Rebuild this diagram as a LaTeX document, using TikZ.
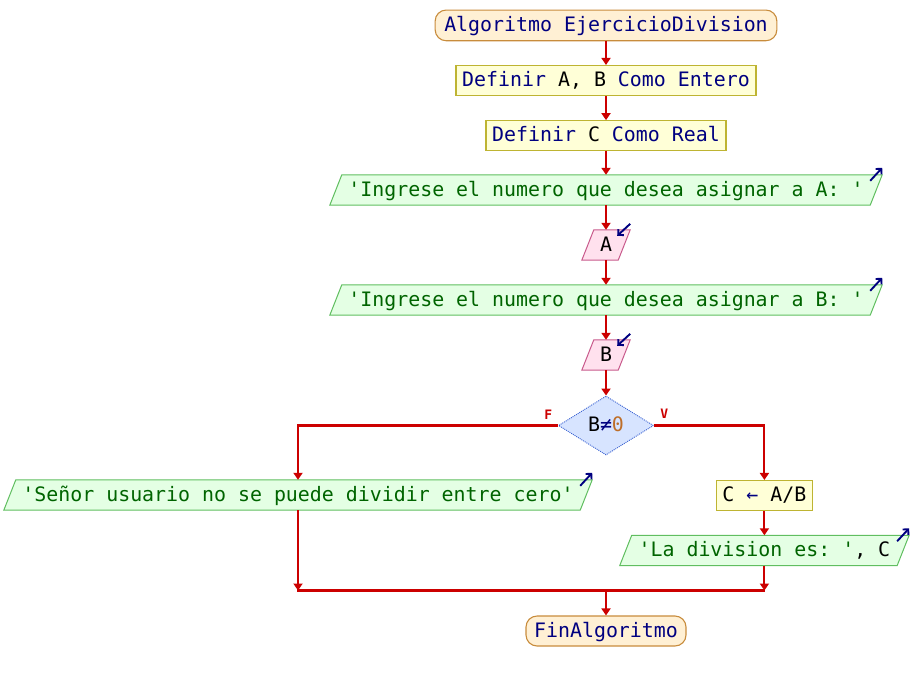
\documentclass[tikz,border=0pt]{standalone}
\usepackage{fontspec}
\setmonofont{DejaVu Sans Mono}
\usetikzlibrary{shapes.geometric,arrows.meta,backgrounds,calc}
\definecolor{flowred}{RGB}{204,0,0}
\definecolor{navy}{RGB}{0,0,128}
\definecolor{termfill}{RGB}{255,240,212}
\definecolor{termdraw}{RGB}{200,140,60}
\definecolor{procfill}{RGB}{255,255,215}
\definecolor{procdraw}{RGB}{190,180,50}
\definecolor{outfill}{RGB}{228,255,228}
\definecolor{outdraw}{RGB}{96,190,96}
\definecolor{outtext}{RGB}{0,100,0}
\definecolor{infill}{RGB}{255,225,238}
\definecolor{indraw}{RGB}{200,90,140}
\definecolor{decfill}{RGB}{215,228,255}
\definecolor{decdraw}{RGB}{60,100,210}
\definecolor{zerocol}{RGB}{190,110,40}
\newcommand{\parabg}[3]{%
  \begin{scope}[on background layer]
    \path[fill=#2, draw=#3, line width=1pt]
      ([xshift=-6pt]#1.south west) -- ([xshift=6pt]#1.north west) --
      ([xshift=6pt]#1.north east) -- ([xshift=-6pt]#1.south east) -- cycle;
  \end{scope}}
\tikzset{
  base/.style={font=\ttfamily\fontsize{19.9}{24}\selectfont, text height=15.5pt, text depth=3pt, inner sep=0pt, minimum height=30pt},
  term/.style={base, draw=termdraw, fill=termfill, rounded corners=11pt, line width=1.1pt, text=navy},
  proc/.style={base, draw=procdraw, fill=procfill, line width=1.1pt, text=navy},
  outp/.style={base, text=outtext},
  inp/.style={base, text=black},
  dec/.style={base, diamond, draw=decdraw, fill=decfill, dash pattern=on 1pt off 1pt, line width=0.9pt, minimum width=95pt, minimum height=59pt, aspect=1.6, text=black},
  flow/.style={draw=flowred, line width=2.1pt, -{Triangle[width=9pt,length=7pt]}},
  wire/.style={draw=flowred, line width=2.1pt},
  icon/.style={draw=navy, line width=1.9pt, -{Straight Barb[length=4pt,width=8pt]}},
  branch/.style={text=flowred, font=\ttfamily\bfseries\fontsize{13}{15}\selectfont, inner sep=0pt}
}
\begin{document}
\begin{tikzpicture}[x=1pt,y=-1pt]
\useasboundingbox (0,0) rectangle (912,680);
% nodes
\node[term, minimum width=341.7pt, minimum height=30.7pt] (start) at (606,25.4) {Algoritmo EjercicioDivision};
\node[proc, minimum width=300pt] (def1) at (606,80.5) {Definir \textcolor{black}{A, B} Como Entero};
\node[proc, minimum width=240pt] (def2) at (606,135.7) {Definir \textcolor{black}{C} Como Real};
\node[outp, minimum width=540pt] (out1) at (606,190) {'Ingrese el numero que desea asignar a A: '};
\parabg{out1}{outfill}{outdraw}
\node[inp, minimum width=36pt] (inA) at (606,245) {A};
\parabg{inA}{infill}{indraw}
\node[outp, minimum width=540pt] (out2) at (606,300) {'Ingrese el numero que desea asignar a B: '};
\parabg{out2}{outfill}{outdraw}
\node[inp, minimum width=36pt] (inB) at (606,355) {B};
\parabg{inB}{infill}{indraw}
\node[dec] (dec) at (606,425.5) {B\textcolor{navy}{≠}\textcolor{zerocol}{0}};
\node[branch] (lf) at (548.3,414.3) {F};
\node[branch] (lv) at (664.3,414) {V};
\node[outp, minimum width=576pt] (left) at (298,495) {'Señor usuario no se puede dividir entre cero'};
\parabg{left}{outfill}{outdraw}
\node[proc, minimum width=96pt, text=black] (cab) at (764.4,495.5) {C \textcolor{navy}{←} A/B};
\node[outp, minimum width=277pt] (out3) at (764.4,550.5) {'La division es: '\textcolor{black}{, C}};
\parabg{out3}{outfill}{outdraw}
\node[term, minimum width=160pt] (fin) at (606,631) {FinAlgoritmo};
\coordinate (mL) at (298,590.5);
\coordinate (mR) at (764.4,590.5);
\coordinate (mC) at (606,590.5);
% connectors
\draw[flow] (start.south) -- (def1.north);
\draw[flow] (def1.south) -- (def2.north);
\draw[flow] (def2.south) -- (out1.north);
\draw[flow] (out1.south) -- (inA.north);
\draw[flow] (inA.south) -- (out2.north);
\draw[flow] (out2.south) -- (inB.north);
\draw[flow] (inB.south) -- (dec.north);
\draw[flow] (dec.west) -| (left.north);
\draw[flow] (dec.east) -| (cab.north);
\draw[flow] (cab.south) -- (out3.north);
\draw[flow] (left.south) -- (mL);
\draw[flow] (out3.south) -- (mR);
\draw[wire, line cap=rect] (mL) -- (mR);
\draw[flow] (mC) -- (fin.north);
% icons
\foreach \n in {out1,out2,left,out3}
  \draw[icon] ($(\n.north east)+(-6,6)$) -- ($(\n.north east)+(6,-7)$);
\foreach \n in {inA,inB}
  \draw[icon] ($(\n.north east)+(6,-6)$) -- ($(\n.north east)+(-7,6)$);
\end{tikzpicture}
\end{document}
